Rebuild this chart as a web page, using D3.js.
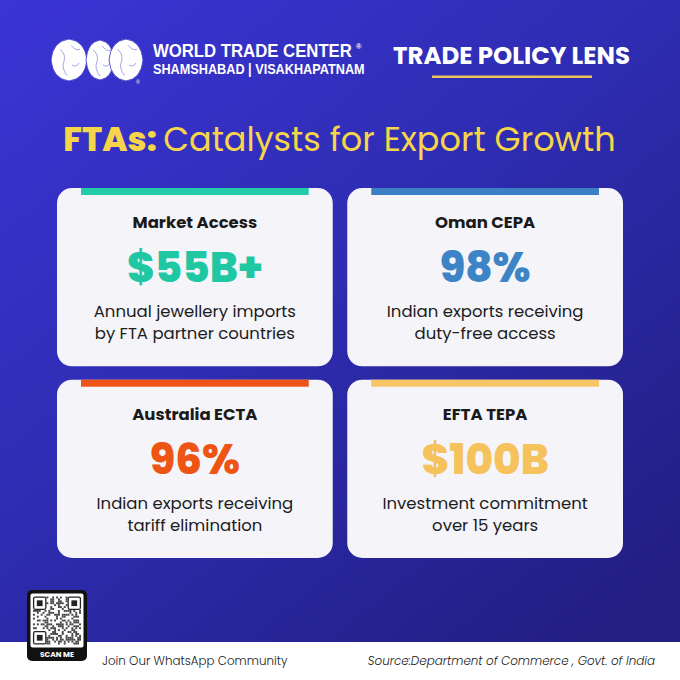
<!DOCTYPE html>
<html>
<head>
<meta charset="utf-8">
<script src="https://cdn.jsdelivr.net/npm/d3@7"></script>
<style>
  html, body { margin: 0; padding: 0; background: #fff; }
  svg { display: block; }
</style>
</head>
<body>
<div id="chart"></div>
<script>
// card content
var cardTitles = ["Market Access", "Oman CEPA", "Australia ECTA", "EFTA TEPA"];
var cardValues = ["$55B+", "98%", "96%", "$100B"];
var cardLine1 = ["Annual jewellery imports", "Indian exports receiving", "Indian exports receiving", "Investment commitment"];
var cardLine2 = ["by FTA partner countries", "duty-free access", "tariff elimination", "over 15 years"];
var cardColors = ["#1fc7a2", "#3d84c6", "#ee5413", "#f5c25c"];
var barColors = ["#22cbaa", "#3b7fc4", "#ee5418", "#f6c566"];

var W = 680, H = 680;
var font = "Poppins, Inter, 'Noto Sans', sans-serif";
var arial = "'Liberation Sans', Arial, sans-serif";

var svg = d3.select("#chart").append("svg")
	.attr("width", W).attr("height", H);

var defs = svg.append("defs");
var grad = defs.append("linearGradient").attr("id", "bg")
	.attr("x1", "0").attr("y1", "0").attr("x2", "0.8").attr("y2", "1");
grad.append("stop").attr("offset", "0%").attr("stop-color", "#3b34d6");
grad.append("stop").attr("offset", "45%").attr("stop-color", "#2f2db4");
grad.append("stop").attr("offset", "100%").attr("stop-color", "#221e82");

svg.append("rect").attr("width", W).attr("height", H).attr("fill", "url(#bg)");
svg.append("rect").attr("y", 642).attr("width", W).attr("height", H - 642).attr("fill", "#ffffff");

// ---- header: logo (three lemon shaped globes)
var logo = svg.append("g");
var globes = [[69, 60, 36, 42], [100, 60, 28, 40], [126, 60, 34, 42]];
globes.forEach(function(g) {
	var cx = g[0], cy = g[1], w = g[2] / 2, h = g[3] / 2, k = 0.9;
	var p = "M" + cx + "," + (cy - h) +
		" Q" + (cx + w * k) + "," + (cy - h * k) + " " + (cx + w) + "," + cy +
		" Q" + (cx + w * k) + "," + (cy + h * k) + " " + cx + "," + (cy + h) +
		" Q" + (cx - w * k) + "," + (cy + h * k) + " " + (cx - w) + "," + cy +
		" Q" + (cx - w * k) + "," + (cy - h * k) + " " + cx + "," + (cy - h) + "Z";
	logo.append("path").attr("d", p).attr("fill", "#fff")
		.attr("stroke", "#3431c4").attr("stroke-width", 0.8);
	logo.append("path")
		.attr("d", "M" + (cx - w * 0.5) + "," + (cy - h * 0.5) + " q6,4 4,12 q-3,6 3,14" +
			" M" + (cx + 2) + "," + (cy - h * 0.7) + " q5,6 9,4 M" + (cx + 3) + "," + (cy + 5) + " q4,3 7,-2")
		.attr("fill", "none").attr("stroke", "#4a46cf").attr("stroke-width", 0.9).attr("opacity", 0.55);
});
logo.append("text").attr("x", 136).attr("y", 84).attr("font-size", 5)
	.attr("fill", "#fff").attr("font-family", arial).text("®");

// squeeze header lines to the logo's width with a horizontal scale
function squeezed(txt, x, y, size, width) {
	var t = svg.append("text").attr("x", 0).attr("y", 0)
		.attr("font-family", arial).attr("font-weight", 700)
		.attr("font-size", size).attr("fill", "#fff").text(txt);
	var len = t.node().getComputedTextLength();
	t.attr("transform", "translate(" + x + "," + y + ") scale(" + (width / len) + ",1)");
	return t;
}
squeezed("WORLD TRADE CENTER", 153, 57, 19, 199);
svg.append("text").attr("x", 356).attr("y", 49)
	.attr("font-family", arial).attr("font-weight", 700)
	.attr("font-size", 7.5).attr("fill", "#fff").text("®");
squeezed("SHAMSHABAD | VISAKHAPATNAM", 153, 74, 15, 212);

svg.append("text").attr("x", 511.5).attr("y", 64).attr("text-anchor", "middle")
	.attr("font-family", font).attr("font-weight", 700)
	.attr("font-size", 24.5).attr("fill", "#fff")
	.text("TRADE POLICY LENS");
svg.append("rect").attr("x", 432).attr("y", 75.5).attr("width", 160).attr("height", 2.5)
	.attr("fill", "#e9c35c");

// ---- title
var title = svg.append("text").attr("x", 339.5).attr("y", 151).attr("text-anchor", "middle")
	.attr("font-family", font).attr("font-size", 33.5).attr("fill", "#f7d54a");
title.append("tspan").attr("font-weight", 800).text("FTAs: ");
title.append("tspan").attr("font-weight", 400).text("Catalysts for Export Growth");

// ---- cards
var cols = d3.scaleBand().domain([0, 1]).range([57, 623]).paddingInner(0.05);
var rows = d3.scaleBand().domain([0, 1]).range([188, 558]).paddingInner(0.07);

var cards = svg.selectAll("g.card").data(cardTitles).enter().append("g")
	.attr("class", "card")
	.attr("transform", function(d, i) { return "translate(" + cols(i % 2) + "," + rows(Math.floor(i / 2)) + ")"; });

var cw = cols.bandwidth(), ch = rows.bandwidth();

cards.append("rect").attr("width", cw).attr("height", ch).attr("rx", 15)
	.attr("fill", "#f4f4f9");
cards.append("rect").attr("x", 24).attr("width", cw - 48).attr("height", 7)
	.attr("fill", function(d, i) { return barColors[i]; });

cards.append("text").attr("x", cw / 2).attr("y", 40).attr("text-anchor", "middle")
	.attr("font-family", font).attr("font-weight", 700).attr("font-size", 16.5)
	.attr("fill", "#1a1a1a").text(function(d) { return d; });

cards.append("text").attr("x", cw / 2).attr("y", 94).attr("text-anchor", "middle")
	.attr("font-family", font).attr("font-weight", 800).attr("font-size", 42)
	.attr("fill", function(d, i) { return cardColors[i]; })
	.text(function(d, i) { return cardValues[i]; });

cards.append("text").attr("x", cw / 2).attr("y", 129).attr("text-anchor", "middle")
	.attr("font-family", font).attr("font-weight", 400).attr("font-size", 16.5)
	.attr("fill", "#1c1c1c").text(function(d, i) { return cardLine1[i]; });
cards.append("text").attr("x", cw / 2).attr("y", 151).attr("text-anchor", "middle")
	.attr("font-family", font).attr("font-weight", 400).attr("font-size", 16.5)
	.attr("fill", "#1c1c1c").text(function(d, i) { return cardLine2[i]; });

// ---- QR badge
var qr = svg.append("g").attr("transform", "translate(27,590)");
qr.append("rect").attr("width", 60).attr("height", 71).attr("rx", 5).attr("fill", "#111");
qr.append("rect").attr("x", 3.5).attr("y", 3.5).attr("width", 53).attr("height", 54).attr("rx", 2).attr("fill", "#fff");
var n = 25, cell = 48 / n;
var qg = qr.append("g").attr("transform", "translate(6,6.5)");
for (var i = 0; i < n; i++) {
	for (var j = 0; j < n; j++) {
		var inFinder = (i < 7 && j < 7) || (i > n - 8 && j < 7) || (i < 7 && j > n - 8);
		if (inFinder) continue;
		var h = ((i * 73856093) ^ (j * 19349663) ^ (i * j * 83492791)) >>> 0;
		if (h % 7 < 3) {
			qg.append("rect").attr("x", i * cell).attr("y", j * cell)
				.attr("width", cell).attr("height", cell).attr("fill", "#444");
		}
	}
}
[[0, 0], [n - 7, 0], [0, n - 7]].forEach(function(p) {
	qg.append("rect").attr("x", p[0] * cell + 0.6).attr("y", p[1] * cell + 0.6)
		.attr("width", 7 * cell - 1.2).attr("height", 7 * cell - 1.2).attr("rx", 1.5)
		.attr("fill", "none").attr("stroke", "#222").attr("stroke-width", 1.3);
	qg.append("rect").attr("x", p[0] * cell + 2 * cell).attr("y", p[1] * cell + 2 * cell)
		.attr("width", 3 * cell).attr("height", 3 * cell).attr("fill", "#222");
});
qr.append("text").attr("x", 30).attr("y", 67).attr("text-anchor", "middle")
	.attr("font-family", font).attr("font-weight", 700)
	.attr("font-size", 7.5).attr("fill", "#fff").text("SCAN ME");

// ---- footer
svg.append("text").attr("x", 102).attr("y", 665)
	.attr("font-family", font).attr("font-weight", 300).attr("font-size", 11.9).attr("fill", "#222")
	.text("Join Our WhatsApp Community");
svg.append("text").attr("x", 655).attr("y", 665).attr("text-anchor", "end")
	.attr("font-family", font).attr("font-weight", 300).attr("font-style", "italic")
	.attr("font-size", 11.9).attr("fill", "#222")
	.text("Source:Department of Commerce , Govt. of India");
</script>
</body>
</html>
